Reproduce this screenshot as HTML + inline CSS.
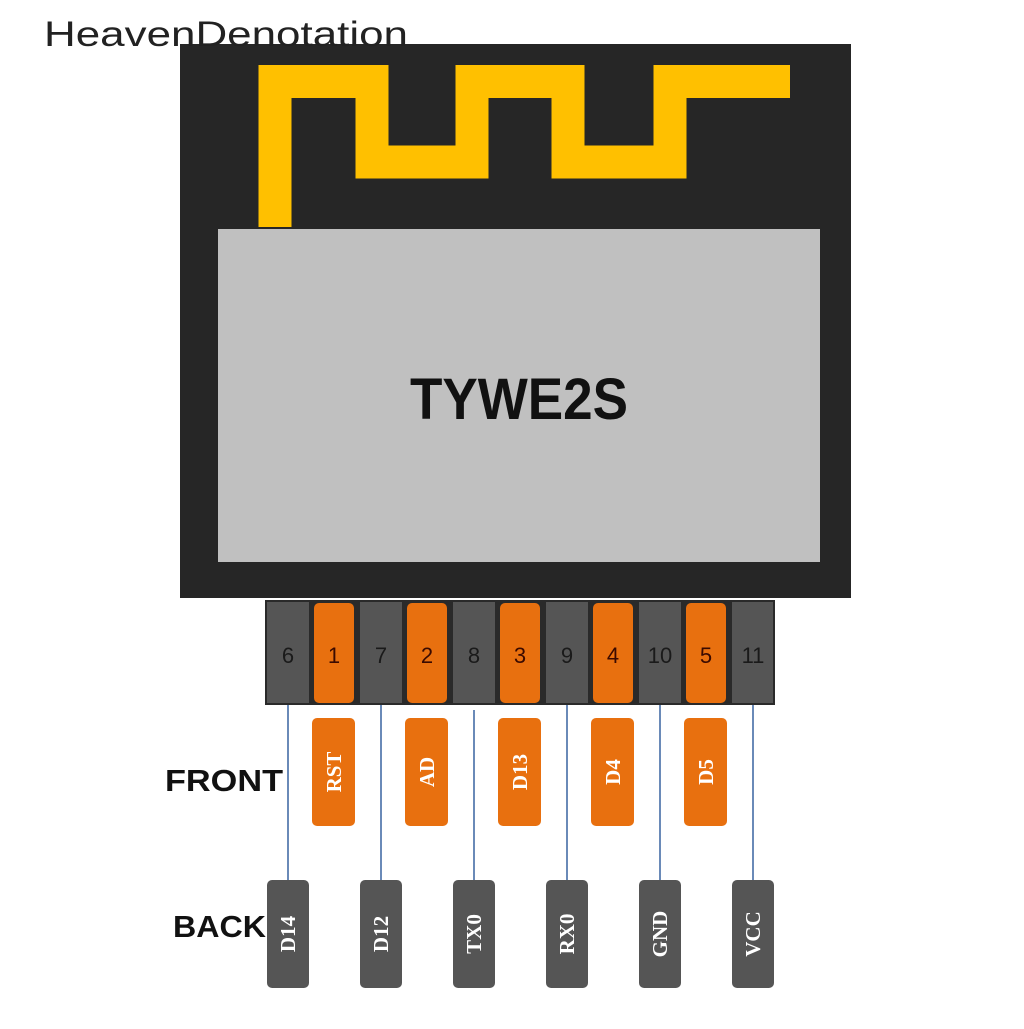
<!DOCTYPE html>
<html><head><style>
body{margin:0;background:#fff;width:1024px;height:1024px;overflow:hidden}
</style></head><body>
<svg width="1024" height="1024" viewBox="0 0 1024 1024" xmlns="http://www.w3.org/2000/svg" font-family="Liberation Sans, sans-serif">
<rect width="1024" height="1024" fill="#fff"/>
<rect x="180" y="44" width="671" height="554" fill="#262626"/>
<polyline points="275,227 275,81.5 372,81.5 372,162 472,162 472,81.5 568,81.5 568,162 670,162 670,81.5 790,81.5" fill="none" stroke="#ffc000" stroke-width="33" stroke-linejoin="miter"/>
<rect x="218" y="229" width="602" height="333" fill="#c0c0c0"/>
<text x="410" y="419" textLength="218" lengthAdjust="spacingAndGlyphs" font-size="58" font-weight="bold" fill="#111">TYWE2S</text>
<rect x="265" y="600" width="510" height="105" fill="#2a2a2a"/>
<g stroke="#6a8ab8" stroke-width="2">
<line x1="288" y1="705" x2="288" y2="882"/><line x1="381" y1="705" x2="381" y2="882"/>
<line x1="474" y1="710" x2="474" y2="882"/><line x1="567" y1="705" x2="567" y2="882"/>
<line x1="660" y1="705" x2="660" y2="882"/><line x1="753" y1="705" x2="753" y2="882"/>
</g>
<g font-size="22" text-anchor="middle" fill="#1a1a1a">
<rect x="267" y="602" width="42" height="101" fill="#555"/><text x="288" y="663">6</text>
<rect x="314" y="603" width="40" height="100" rx="5" fill="#e8700f"/><text x="334" y="663" fill="#3a0a00">1</text>
<rect x="360" y="602" width="42" height="101" fill="#555"/><text x="381" y="663">7</text>
<rect x="407" y="603" width="40" height="100" rx="5" fill="#e8700f"/><text x="427" y="663" fill="#3a0a00">2</text>
<rect x="453" y="602" width="42" height="101" fill="#555"/><text x="474" y="663">8</text>
<rect x="500" y="603" width="40" height="100" rx="5" fill="#e8700f"/><text x="520" y="663" fill="#3a0a00">3</text>
<rect x="546" y="602" width="42" height="101" fill="#555"/><text x="567" y="663">9</text>
<rect x="593" y="603" width="40" height="100" rx="5" fill="#e8700f"/><text x="613" y="663" fill="#3a0a00">4</text>
<rect x="639" y="602" width="42" height="101" fill="#555"/><text x="660" y="663">10</text>
<rect x="686" y="603" width="40" height="100" rx="5" fill="#e8700f"/><text x="706" y="663" fill="#3a0a00">5</text>
<rect x="732" y="602" width="41" height="101" fill="#555"/><text x="753" y="663">11</text>
</g>
<g fill="#e8700f">
<rect x="312" y="718" width="43" height="108" rx="5"/><rect x="405" y="718" width="43" height="108" rx="5"/>
<rect x="498" y="718" width="43" height="108" rx="5"/><rect x="591" y="718" width="43" height="108" rx="5"/>
<rect x="684" y="718" width="43" height="108" rx="5"/>
</g>
<g fill="#555">
<rect x="267" y="880" width="42" height="108" rx="5"/><rect x="360" y="880" width="42" height="108" rx="5"/>
<rect x="453" y="880" width="42" height="108" rx="5"/><rect x="546" y="880" width="42" height="108" rx="5"/>
<rect x="639" y="880" width="42" height="108" rx="5"/><rect x="732" y="880" width="42" height="108" rx="5"/>
</g>
<g fill="#fff" font-weight="bold" font-size="21" text-anchor="middle" font-family="Liberation Serif, serif">
<text transform="translate(341,772) rotate(-90)">RST</text>
<text transform="translate(434,772) rotate(-90)">AD</text>
<text transform="translate(527,772) rotate(-90)">D13</text>
<text transform="translate(620,772) rotate(-90)">D4</text>
<text transform="translate(713,772) rotate(-90)">D5</text>
<text transform="translate(295,934) rotate(-90)">D14</text>
<text transform="translate(388,934) rotate(-90)">D12</text>
<text transform="translate(481,934) rotate(-90)">TX0</text>
<text transform="translate(574,934) rotate(-90)">RX0</text>
<text transform="translate(667,934) rotate(-90)">GND</text>
<text transform="translate(760,934) rotate(-90)">VCC</text>
</g>
<text x="165" y="791" textLength="118" lengthAdjust="spacingAndGlyphs" font-size="31" font-weight="bold" fill="#111">FRONT</text>
<text x="173" y="937" textLength="93" lengthAdjust="spacingAndGlyphs" font-size="31" font-weight="bold" fill="#111">BACK</text>
<text x="44" y="46" textLength="364" lengthAdjust="spacingAndGlyphs" font-size="35" fill="#222">HeavenDenotation</text>
</svg>
</body></html>
